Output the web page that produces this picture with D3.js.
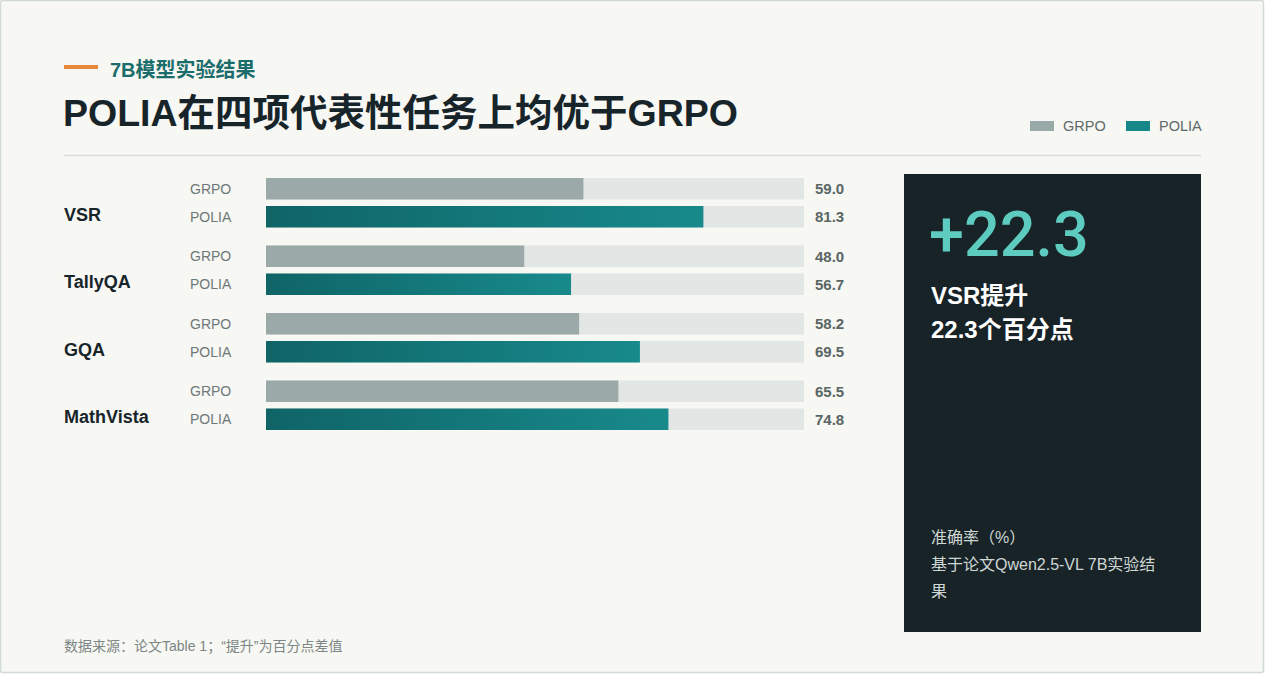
<!DOCTYPE html>
<html><head><meta charset="utf-8">
<script src="https://cdn.jsdelivr.net/npm/d3@7"></script>
<style>
html,body{margin:0;padding:0;background:#ffffff;}
svg{display:block;font-family:"Liberation Sans","Noto Sans CJK SC",sans-serif;}
</style></head>
<body>
<svg id="chart" width="1265" height="674"></svg>
<script>
const categories = ["VSR", "TallyQA", "GQA", "MathVista"];
const seriesNames = ["GRPO", "POLIA"];
const grpoValues = [59.0, 48.0, 58.2, 65.5];
const poliaValues = [81.3, 56.7, 69.5, 74.8];
const xDomain = [0, 100];
const kicker = "7B模型实验结果";
const title = "POLIA在四项代表性任务上均优于GRPO";
const highlightValue = "+22.3";
const highlightLines = ["VSR提升", "22.3个百分点"];
const noteLines = ["准确率（%）", "基于论文Qwen2.5-VL 7B实验结", "果"];
const footer = "数据来源：论文Table 1；“提升”为百分点差值";

const svg = d3.select("#chart");
const defs = svg.append("defs");
const grad = defs.append("linearGradient").attr("id", "poliaGrad")
  .attr("x1", "0%").attr("x2", "100%").attr("y1", "0%").attr("y2", "0%");
grad.append("stop").attr("offset", "0%").attr("stop-color", "#0f6466");
grad.append("stop").attr("offset", "100%").attr("stop-color", "#188a8c");

// card
svg.append("rect").attr("x", 0.5).attr("y", 0.5).attr("width", 1263).attr("height", 672)
  .attr("rx", 2).attr("fill", "#f7f7f3").attr("stroke", "#d2dad9").attr("stroke-width", 1.5);

// kicker
svg.append("rect").attr("x", 64).attr("y", 65).attr("width", 34).attr("height", 4).attr("fill", "#e8893a");
svg.append("text").attr("x", 110).attr("y", 77).attr("font-size", 20).attr("font-weight", "bold")
  .attr("fill", "#1a6d6b").text(kicker);
// title
svg.append("text").attr("x", 63).attr("y", 126).attr("font-size", 37.5).attr("font-weight", "bold")
  .attr("fill", "#17252a").text(title);
// separator
svg.append("line").attr("x1", 64).attr("x2", 1201).attr("y1", 155.5).attr("y2", 155.5)
  .attr("stroke", "#d8dedd").attr("stroke-width", 1.5);

// legend
const legendColors = { GRPO: "#9aaaa8", POLIA: "#168789" };
const legendX = [1030, 1126];
seriesNames.forEach((s, i) => {
  svg.append("rect").attr("x", legendX[i]).attr("y", 121).attr("width", 24).attr("height", 10)
    .attr("fill", legendColors[s]);
  svg.append("text").attr("x", legendX[i] + 33).attr("y", 131).attr("font-size", 14.5)
    .attr("fill", "#5e6a6a").text(s);
});

// scales
const x = d3.scaleLinear().domain(xDomain).range([266, 804]);
const y = d3.scaleBand().domain(categories).range([178, 430]).paddingInner(18 / 67.5).paddingOuter(0);
const ys = d3.scaleBand().domain(seriesNames).range([0, y.bandwidth()]).paddingInner(0.232).paddingOuter(0);

const data = categories.map((c, i) => ({ cat: c, vals: [
  { s: "GRPO", v: grpoValues[i] }, { s: "POLIA", v: poliaValues[i] }] }));

const g = svg.append("g");
const groups = g.selectAll("g.grp").data(data).join("g").attr("class", "grp")
  .attr("transform", d => `translate(0,${y(d.cat)})`);

groups.append("text").attr("x", 64)
  .attr("y", ys("POLIA") + ys.bandwidth() / 2 - 2.5).attr("dy", "0.35em")
  .attr("font-size", 18).attr("font-weight", "bold").attr("fill", "#17252a").text(d => d.cat);

const rows = groups.selectAll("g.row").data(d => d.vals).join("g").attr("class", "row")
  .attr("transform", d => `translate(0,${ys(d.s)})`);

rows.append("text").attr("x", 190).attr("y", ys.bandwidth() / 2).attr("dy", "0.36em")
  .attr("font-size", 14).attr("fill", "#6d7979").text(d => d.s);
rows.append("rect").attr("x", x(xDomain[0])).attr("width", x(xDomain[1]) - x(xDomain[0]))
  .attr("height", ys.bandwidth()).attr("fill", "#e2e7e5");
rows.append("rect").attr("x", x(0)).attr("width", d => x(d.v) - x(0))
  .attr("height", ys.bandwidth())
  .attr("fill", d => d.s === "POLIA" ? "url(#poliaGrad)" : "#9baaa8");
rows.append("text").attr("x", 815).attr("y", ys.bandwidth() / 2).attr("dy", "0.36em")
  .attr("font-size", 15).attr("font-weight", "bold").attr("fill", "#5a6663")
  .text(d => d3.format(".1f")(d.v));

// right panel
svg.append("rect").attr("x", 904).attr("y", 174).attr("width", 297).attr("height", 458).attr("fill", "#182327");
svg.append("text").attr("x", 929).attr("y", 256).attr("font-size", 63)
  .attr("font-family", "Roboto, 'Liberation Sans', sans-serif").attr("font-weight", 500)
  .attr("fill", "#5ecbc0").text(highlightValue);
highlightLines.forEach((t, i) => {
  svg.append("text").attr("x", 931).attr("y", 304 + i * 34).attr("font-size", 24).attr("font-weight", "bold")
    .attr("fill", "#ffffff").text(t);
});
noteLines.forEach((t, i) => {
  svg.append("text").attr("x", 931).attr("y", 543 + i * 27).attr("font-size", 16)
    .attr("fill", "#cfd7d5").text(t);
});

// footer
svg.append("text").attr("x", 64).attr("y", 651).attr("font-size", 14).attr("fill", "#7c8686").text(footer);
</script>
</body></html>
